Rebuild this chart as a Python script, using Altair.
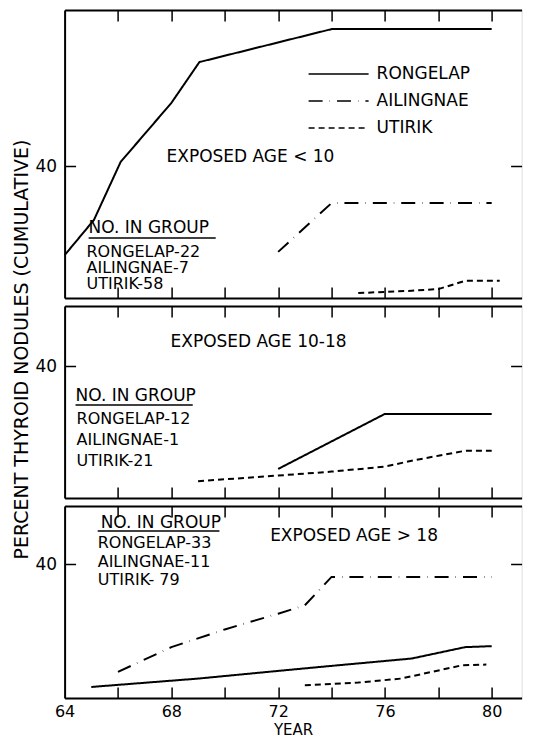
import altair as alt
import pandas as pd

FONT = "DejaVu Sans"
sites = ["RONGELAP", "AILINGNAE", "UTIRIK"]
dashes = [[1, 0], [14, 7, 0.4, 7], [6, 4]]

# ---- Panel 1: EXPOSED AGE < 10 ----
p1_rongelap_year = [64, 65.1, 66.1, 68, 69.05, 74, 80]
p1_rongelap_pct = [13.0, 23.7, 41.3, 59.2, 71.6, 81.6, 81.6]
p1_ailingnae_year = [72, 74, 80]
p1_ailingnae_pct = [14.0, 28.8, 28.8]
p1_utirik_year = [75, 77, 78, 79, 80.3]
p1_utirik_pct = [1.5, 2.2, 2.7, 5.2, 5.2]

# ---- Panel 2: EXPOSED AGE 10-18 ----
p2_rongelap_year = [72, 76, 80]
p2_rongelap_pct = [8.8, 25.5, 25.5]
p2_utirik_year = [69, 72, 74, 76, 77, 78, 79, 80]
p2_utirik_pct = [5.1, 6.8, 8.0, 9.5, 11.3, 12.8, 14.3, 14.3]

# ---- Panel 3: EXPOSED AGE > 18 ----
p3_rongelap_year = [65, 69, 72, 74, 77, 79, 80]
p3_rongelap_pct = [3.3, 5.8, 8.1, 9.6, 11.8, 15.2, 15.5]
p3_ailingnae_year = [66, 68, 70, 72, 73, 74, 80]
p3_ailingnae_pct = [7.8, 15.2, 20.5, 25.2, 27.7, 36.2, 36.2]
p3_utirik_year = [73, 75, 76.6, 78.9, 79.8]
p3_utirik_pct = [3.8, 4.6, 5.8, 9.8, 10.0]

# ---- headings ----
p1_head_text = ["EXPOSED AGE < 10", "NO. IN GROUP"]
p1_head_year = [67.82, 64.9]
p1_head_pct = [42.8, 21.2]
p2_head_text = ["EXPOSED AGE 10-18", "NO. IN GROUP"]
p2_head_year = [67.97, 64.41]
p2_head_pct = [47.3, 30.9]
p3_head_text = ["EXPOSED AGE > 18", "NO. IN GROUP"]
p3_head_year = [71.7, 65.35]
p3_head_pct = [48.4, 52.3]

# ---- group sizes (one block per panel; position = first line) ----
p1_counts = ["RONGELAP-22", "AILINGNAE-7", "UTIRIK-58"]
p1_counts_year, p1_counts_pct = 64.82, 14.1
p2_counts = ["RONGELAP-12", "AILINGNAE-1", "UTIRIK-21"]
p2_counts_year, p2_counts_pct = 64.45, 23.9
p3_counts = ["RONGELAP-33", "AILINGNAE-11", "UTIRIK- 79"]
p3_counts_year, p3_counts_pct = 65.24, 46.3

# ---- underline under "NO. IN GROUP" (start year, end year, pct) ----
p1_underline = [64.9, 69.66, 18.2]
p2_underline = [64.41, 68.8, 28.2]
p3_underline = [65.24, 69.8, 49.9]

x_ticks = [66, 68, 70, 72, 74, 76, 78, 80]
x_labels = [64, 68, 72, 76, 80]
y_ticks = [40]
W = 457
x_domain = [64, 81.12]
heights = [288, 192, 192]
y_max = [87.4, 58.2, 57.4]
count_line_height = [16, 21, 18.5]


def series_df(pairs):
    rows = []
    for site, years, pcts in pairs:
        for y, p in zip(years, pcts):
            rows.append({"site": site, "year": y, "pct": p})
    return pd.DataFrame(rows)


line_data = [
    series_df([("RONGELAP", p1_rongelap_year, p1_rongelap_pct),
               ("AILINGNAE", p1_ailingnae_year, p1_ailingnae_pct),
               ("UTIRIK", p1_utirik_year, p1_utirik_pct)]),
    series_df([("RONGELAP", p2_rongelap_year, p2_rongelap_pct),
               ("UTIRIK", p2_utirik_year, p2_utirik_pct)]),
    series_df([("RONGELAP", p3_rongelap_year, p3_rongelap_pct),
               ("AILINGNAE", p3_ailingnae_year, p3_ailingnae_pct),
               ("UTIRIK", p3_utirik_year, p3_utirik_pct)]),
]
head_data = [
    pd.DataFrame({"text": p1_head_text, "year": p1_head_year, "pct": p1_head_pct}),
    pd.DataFrame({"text": p2_head_text, "year": p2_head_year, "pct": p2_head_pct}),
    pd.DataFrame({"text": p3_head_text, "year": p3_head_year, "pct": p3_head_pct}),
]
count_data = [
    pd.DataFrame({"text": ["\n".join(c)], "year": [y], "pct": [p]})
    for c, y, p in ((p1_counts, p1_counts_year, p1_counts_pct),
                    (p2_counts, p2_counts_year, p2_counts_pct),
                    (p3_counts, p3_counts_year, p3_counts_pct))
]
ul_data = [
    pd.DataFrame({"x1": [u[0]], "x2": [u[1]], "pct": [u[2]]})
    for u in (p1_underline, p2_underline, p3_underline)
]

legend = alt.Legend(
    title=None, orient="none", legendX=243, legendY=50.5, padding=0,
    symbolType="stroke", symbolSize=3600, symbolStrokeWidth=1.5,
    symbolStrokeColor="black", clipHeight=27, rowPadding=0,
    labelFont=FONT, labelFontSize=17, labelColor="black", labelOffset=7,
)


def panel(i):
    H = heights[i]
    bottom = i == 2
    xs = alt.Scale(domain=x_domain, nice=False, zero=False)
    ys = alt.Scale(domain=[0, y_max[i]], nice=False, zero=False)

    x_main = alt.Axis(
        orient="bottom", domain=True, domainColor="black", domainWidth=2,
        ticks=False, tickSize=0, labels=bottom, values=x_labels, format="d",
        labelFont=FONT, labelFontSize=16, labelColor="black", labelPadding=6,
        labelFlush=False, grid=False,
        title="YEAR" if bottom else "", titleFont=FONT, titleFontSize=15,
        titleFontWeight="normal", titleColor="black", titlePadding=3,
    )
    y_main = alt.Axis(
        orient="left", domain=True, domainColor="black", domainWidth=2,
        ticks=False, tickSize=0, values=y_ticks, labelFont=FONT, labelFontSize=17,
        labelColor="black", labelPadding=8, grid=False,
        title="PERCENT THYROID NODULES (CUMULATIVE)" if i == 1 else "",
        titleFont=FONT, titleFontSize=19, titleFontWeight="normal",
        titleColor="black", titleX=-43, titleY=43, titleAngle=270,
        titleAlign="center", titleBaseline="middle",
    )
    lines = alt.Chart(line_data[i]).mark_line(color="black", strokeWidth=2).encode(
        x=alt.X("year:Q", scale=xs, axis=x_main),
        y=alt.Y("pct:Q", scale=ys, axis=y_main),
        strokeDash=alt.StrokeDash("site:N", scale=alt.Scale(domain=sites, range=dashes),
                                  legend=legend),
        detail="site:N",
    )

    # bottom-edge inward ticks, left-edge inward tick
    x_in_bottom = alt.Axis(orient="top", offset=-H, domain=False, ticks=True,
                           tickSize=11, tickWidth=1.5, tickColor="black",
                           labels=False, values=x_ticks, title="", grid=False)
    y_in_left = alt.Axis(orient="right", offset=-W, domain=False, ticks=True,
                         tickSize=11, tickWidth=1.5, tickColor="black",
                         labels=False, values=y_ticks, title="", grid=False)
    heads = alt.Chart(head_data[i]).mark_text(
        align="left", baseline="middle", font=FONT, fontSize=17, color="black"
    ).encode(
        x=alt.X("year:Q", scale=xs, axis=x_in_bottom),
        y=alt.Y("pct:Q", scale=ys, axis=y_in_left),
        text="text:N",
    )
    counts = alt.Chart(count_data[i]).mark_text(
        align="left", baseline="middle", font=FONT, fontSize=16, color="black",
        lineBreak="\n", lineHeight=count_line_height[i],
    ).encode(
        x=alt.X("year:Q", scale=xs, axis=None),
        y=alt.Y("pct:Q", scale=ys, axis=None),
        text="text:N",
    )

    # top-edge border + inward ticks, right-edge inward tick
    x_in_top = alt.Axis(orient="bottom", offset=-H, domain=True, domainColor="black",
                        domainWidth=2, ticks=True, tickSize=11, tickWidth=1.5,
                        tickColor="black", labels=False, values=x_ticks, title="",
                        grid=False)
    y_in_right = alt.Axis(orient="left", offset=-W, domain=False, ticks=True,
                          tickSize=11, tickWidth=1.5, tickColor="black",
                          labels=False, values=y_ticks, title="", grid=False)
    underline = alt.Chart(ul_data[i]).mark_rule(color="black", strokeWidth=1.5).encode(
        x=alt.X("x1:Q", scale=xs, axis=x_in_top),
        x2="x2:Q",
        y=alt.Y("pct:Q", scale=ys, axis=y_in_right),
    )

    return alt.layer(lines, heads, underline, counts).resolve_axis(
        x="independent", y="independent"
    ).properties(width=W, height=H)


chart = alt.vconcat(panel(0), panel(1), panel(2), spacing=8, bounds="flush").properties(
    padding={"left": 3.6, "top": 0, "right": 0, "bottom": 0}
).configure_view(stroke="transparent").configure(font=FONT, background="white")

chart.save("out.html", embed_options={"renderer": "svg", "actions": False})
